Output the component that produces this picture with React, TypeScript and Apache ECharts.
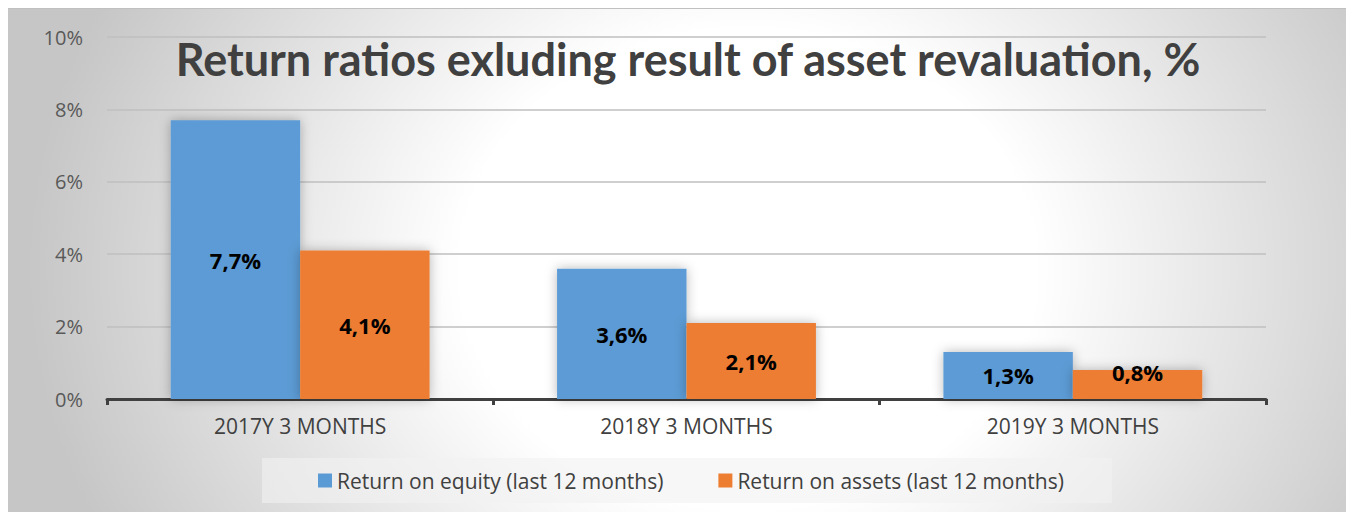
import React, { useEffect, useRef } from "react";
import * as echarts from "echarts";

const categories = ["2017Y 3 MONTHS", "2018Y 3 MONTHS", "2019Y 3 MONTHS"];
const seriesNames = ["Return on equity (last 12 months)", "Return on assets (last 12 months)"];
const roeValues = [7.7, 3.6, 1.3];
const roaValues = [4.1, 2.1, 0.8];
const titleText = "Return ratios exluding result of asset revaluation, %";

const FONT = "'Open Sans', sans-serif";
const TITLE_FONT = "Lato, 'Open Sans', sans-serif";

export default function App() {
  const ref = useRef<HTMLDivElement>(null);
  useEffect(() => {
    if (!ref.current) return;
    const chart = echarts.init(ref.current, undefined, { renderer: "svg" });
    const fmt = (p: any) => String(p.value.toFixed(1)).replace(".", ",") + "%";
    const labelBase = {
      show: true,
      position: "inside",
      formatter: fmt,
      color: "#000",
      fontFamily: FONT,
      fontWeight: "bold",
      fontSize: 22,
    };
    const barShadow = { shadowBlur: 12, shadowColor: "rgba(0,0,0,0.28)" };
    chart.setOption({
      animation: false,
      backgroundColor: "transparent",
      title: {
        text: titleText,
        left: 675,
        textAlign: "center",
        top: 22,
        textStyle: { fontFamily: TITLE_FONT, fontWeight: "bold", fontSize: 45, color: "#404040" },
      },
      legend: {
        data: seriesNames,
        left: 254,
        top: 449,
        padding: [12, 48, 12, 56],
        itemWidth: 14,
        itemHeight: 14,
        itemGap: 55,
        icon: "rect",
        backgroundColor: "rgba(242,242,242,0.6)",
        textStyle: { fontFamily: FONT, fontSize: 21, color: "#404040" },
      },
      grid: { left: 99, top: 28, width: 1159, height: 362 },
      xAxis: {
        type: "category",
        data: categories,
        axisLine: { lineStyle: { color: "#404040", width: 3 } },
        axisTick: { show: true, length: 6, lineStyle: { color: "#404040", width: 3 } },
        axisLabel: { fontFamily: FONT, fontSize: 21, color: "#404040", margin: 16 },
      },
      yAxis: {
        type: "value",
        min: 0,
        max: 10,
        interval: 2,
        axisLine: { show: false },
        axisTick: { show: false },
        axisLabel: { fontFamily: FONT, fontSize: 20, color: "#595959", margin: 24, formatter: "{value}%" },
        splitLine: { lineStyle: { color: "#bfbfbf", width: 1.5 } },
      },
      series: [
        {
          name: seriesNames[0],
          type: "bar",
          data: roeValues,
          barGap: "0%",
          barCategoryGap: "33%",
          itemStyle: { color: "#5b9bd5", ...barShadow },
          label: labelBase,
        },
        {
          name: seriesNames[1],
          type: "bar",
          data: roaValues.map((v, i) =>
            i === 2 ? { value: v, label: { offset: [0, -13] } } : v
          ),
          barGap: "0%",
          barCategoryGap: "33%",
          itemStyle: { color: "#ed7d31", ...barShadow },
          label: labelBase,
        },
      ],
    });
    return () => chart.dispose();
  }, []);
  return (
    <div
      ref={ref}
      style={{
        width: 1346,
        height: 504,
        boxSizing: "border-box",
        borderTop: "1px solid #c0c0c0",
        background:
          "radial-gradient(ellipse 720px 600px at 740px 260px, #ffffff 40%, #c6c6c6 100%)",
      }}
    />
  );
}
